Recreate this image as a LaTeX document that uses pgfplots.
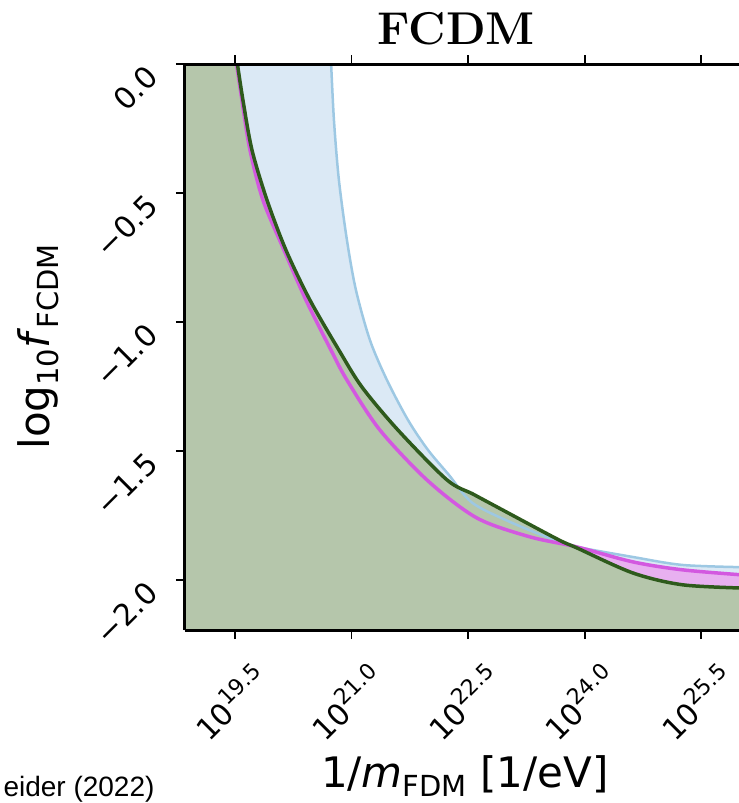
\documentclass[border=0pt]{standalone}
\usepackage{fontspec}
\usepackage{pgfplots}
\pgfplotsset{compat=1.18}
\usepgfplotslibrary{fillbetween}
\newfontfamily\dejavu{DejaVu Sans}
\newfontfamily\arialf{Liberation Sans}
\definecolor{gfill}{HTML}{B5C6AB}
\definecolor{gline}{HTML}{2E5A1C}
\definecolor{bfill}{HTML}{DBE9F5}
\definecolor{bline}{HTML}{9DC8E3}
\definecolor{mfill}{HTML}{E8B0F0}
\definecolor{mline}{HTML}{D358E0}
\newcommand{\tsup}[1]{\raisebox{0.42em}{\fontsize{22}{22}\selectfont #1}}
\newcommand{\lsub}[1]{\raisebox{-0.2em}{\fontsize{29}{29}\selectfont #1}}
\pgfplotstableread{
x y
20.735 0.02
20.774 -0.217
20.838 -0.450
20.941 -0.682
21.057 -0.876
21.237 -1.070
21.456 -1.225
21.727 -1.380
21.984 -1.496
22.254 -1.593
22.550 -1.700
23.039 -1.775
23.644 -1.849
23.902 -1.872
24.622 -1.911
25.266 -1.942
26.100 -1.951
}\blue
\pgfplotstableread{
x y
19.512 0.02
19.590 -0.140
19.693 -0.333
19.860 -0.527
20.131 -0.721
20.414 -0.915
20.736 -1.109
20.941 -1.225
21.366 -1.419
21.984 -1.616
22.615 -1.760
23.297 -1.833
23.902 -1.872
24.622 -1.930
25.266 -1.961
26.100 -1.982
}\magenta
\pgfplotstableread{
x y
19.522 0.02
19.603 -0.140
19.719 -0.333
19.912 -0.527
20.156 -0.721
20.465 -0.915
20.838 -1.109
21.134 -1.252
21.598 -1.419
22.228 -1.612
22.563 -1.667
22.872 -1.717
23.644 -1.841
23.902 -1.876
24.622 -1.973
25.266 -2.019
26.100 -2.032
}\green
\begin{document}
\begin{tikzpicture}
\begin{axis}[
  scale only axis, width=554pt, height=566pt,
  xmin=18.857, xmax=25.986, ymin=-2.194, ymax=0,
  axis x line*=box, axis y line*=left,
  axis line style={line width=3pt, -},
  xtick pos=both, ytick pos=left,
  tick style={line width=1.8pt, black},
  major tick length=9pt,
  tick align=outside,
  xtick={19.5,21,22.5,24,25.5},
  xticklabels={10\tsup{19.5},10\tsup{21.0},10\tsup{22.5},10\tsup{24.0},10\tsup{25.5}},
  ytick={-2,-1.5,-1,-0.5,0},
  yticklabels={−2.0,−1.5,−1.0,−0.5,0.0},
  tick label style={font=\dejavu\fontsize{30}{30}\selectfont},
  xticklabel style={xshift=-5pt, yshift=-63pt, rotate=45, anchor=center},
  yticklabel style={xshift=-21pt, yshift=-5pt, rotate=45, anchor=east},
  set layers=axis on top,
]
% boundary paths (invisible)
\addplot[name path=bcur, draw=none, smooth] table[x=x,y=y] {\blue};
\addplot[name path=mcur, draw=none, smooth] table[x=x,y=y] {\magenta};
\addplot[name path=gcur, draw=none, smooth] table[x=x,y=y] {\green};
\addplot[name path=bbot, draw=none] coordinates {(20.735,-2.3) (26.2,-2.3)};
\addplot[name path=mbot, draw=none] coordinates {(19.512,-2.3) (26.2,-2.3)};
\addplot[name path=gbot, draw=none] coordinates {(19.522,-2.3) (26.2,-2.3)};
\addplot[name path=btop, draw=none] coordinates {(18.7,0.05) (20.745,0.05)};
\addplot[name path=bbl, draw=none] coordinates {(18.7,-2.3) (20.745,-2.3)};
\addplot[name path=mtop, draw=none] coordinates {(18.7,0.05) (19.522,0.05)};
\addplot[name path=mbl, draw=none] coordinates {(18.7,-2.3) (19.522,-2.3)};
\addplot[name path=gtop, draw=none] coordinates {(18.7,0.05) (19.532,0.05)};
\addplot[name path=gbl, draw=none] coordinates {(18.7,-2.3) (19.532,-2.3)};
% fills
\addplot[bfill] fill between[of=bcur and bbot];
\addplot[bfill] fill between[of=btop and bbl];
\addplot[mfill] fill between[of=mcur and mbot];
\addplot[mfill] fill between[of=mtop and mbl];
\addplot[gfill] fill between[of=gcur and gbot];
\addplot[gfill] fill between[of=gtop and gbl];
% lines
\addplot[bline, line width=2.5pt, smooth] table[x=x,y=y] {\blue};
\addplot[mline, line width=3.5pt, smooth] table[x=x,y=y] {\magenta};
\addplot[gline, line width=3.5pt, smooth] table[x=x,y=y] {\green};
\coordinate (ttl) at (axis description cs:0.49,1.0336);
\coordinate (xl) at (axis description cs:0.505,-0.279);
\coordinate (yl) at (axis description cs:-0.2437,0.5);
\coordinate (src) at (axis description cs:-0.3339,-0.295);
\coordinate (bbsw) at (axis description cs:-0.3339,-0.30565);
\coordinate (bbne) at (axis description cs:1,1.1131);
\end{axis}
\node[anchor=base, font=\fontsize{46}{46}\selectfont\bfseries] at (ttl) {FCDM};
\node[anchor=base, font=\dejavu\fontsize{42}{42}\selectfont] at (xl) {1/\textit{m}\lsub{FDM} [1/eV]};
\node[anchor=base, rotate=90, font=\dejavu\fontsize{42}{42}\selectfont] at (yl) {log\lsub{10}\textit{f}\lsub{FCDM}};
\node[anchor=base west, font=\arialf\fontsize{28}{28}\selectfont] at (src) {eider (2022)};
\pgfresetboundingbox
\useasboundingbox (bbsw) rectangle (bbne);
\end{tikzpicture}
\end{document}
